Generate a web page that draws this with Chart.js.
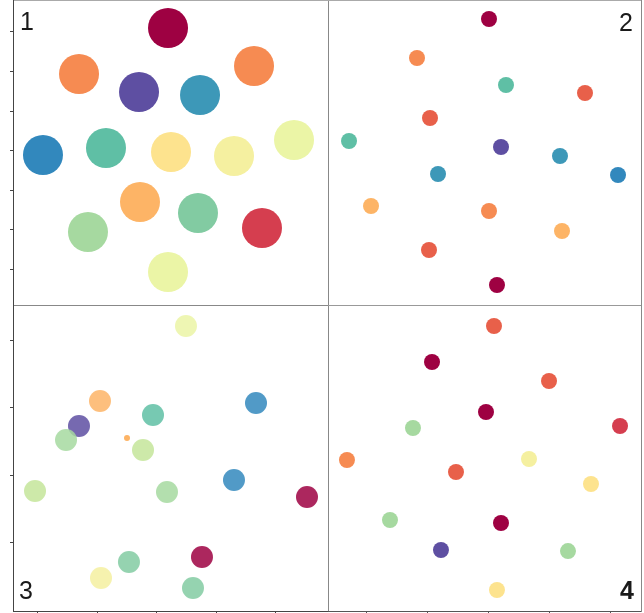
<!DOCTYPE html>
<html>
<head>
<meta charset="utf-8">
<script src="https://cdn.jsdelivr.net/npm/chart.js@4.4.1/dist/chart.umd.min.js"></script>
<style>
  html, body { margin: 0; padding: 0; background: #fff; }
  body { width: 644px; height: 613px; position: relative; overflow: hidden; }
  canvas { position: absolute; }
  .lab { position: absolute; font-family: "Liberation Sans", Arial, sans-serif; font-size: 25px; line-height: 25px; color: #1a1a1a; }
</style>
</head>
<body>
<canvas id="c1" width="319" height="306" style="left:10px;top:0px"></canvas>
<canvas id="c2" width="314" height="306" style="left:328px;top:0px"></canvas>
<canvas id="c3" width="319" height="309" style="left:10px;top:305px"></canvas>
<canvas id="c4" width="314" height="309" style="left:328px;top:305px"></canvas>
<div class="lab" style="left:20px;top:9px">1</div>
<div class="lab" style="left:619px;top:10px">2</div>
<div class="lab" style="left:19px;top:578px">3</div>
<div class="lab" style="left:620px;top:578px;font-weight:bold">4</div>
<script>
// ---- data: cluster centres per panel (embedding units) ----
const p1X = [-0.63, -23.16, -7.97, 7.47, 21.14, -32.28, -16.33, 0.13, 16.08, 31.27, -7.72, 6.96, 23.16, -20.89, -0.63];
const p1Y = [31.01, 19.37, 14.81, 14.05, 21.39, -1.14, 0.63, -0.38, -1.39, 2.66, -13.04, -15.82, -19.62, -20.63, -30.76];
const p1Class = [0, 3, 14, 12, 3, 13, 11, 5, 6, 7, 4, 10, 1, 9, 7];

const p2X = [1.14, -17.09, 5.44, 25.44, -13.80, -34.30, 4.18, 19.11, -11.77, 33.80, -28.73, 1.14, 19.62, -14.05, 3.16];
const p2Y = [33.80, 23.92, 17.09, 15.06, 8.73, 2.91, 1.39, -0.89, -5.44, -5.70, -13.54, -14.81, -19.87, -24.68, -33.54];
const p2Class = [0, 3, 11, 2, 2, 11, 14, 12, 12, 13, 4, 3, 4, 2, 0];

const p3X = [4.87, -9.58, -13.11, -15.29, -0.67, 16.64, -2.35, -20.50, 1.68, 12.94, 25.21, 7.56, -4.71, -9.41, 6.05];
const p3Y = [22.07, 10.96, 7.26, 5.19, 8.89, 10.67, 3.70, -2.37, -2.52, -0.74, -3.26, -12.15, -12.89, -15.26, -16.74];
const p3Class = [7, 4, 14, 9, 11, 13, 8, 8, 9, 13, 0, 0, 10, 6, 10];
const p3StrayX = [-5.04];
const p3StrayY = [5.48];
const p3StrayClass = [4];

const p4X = [0.82, -9.34, 9.84, -0.49, -12.46, 21.48, -23.28, -5.41, 6.56, 16.72, -16.23, 1.97, -7.87, 12.95, 1.31];
const p4Y = [21.64, 15.74, 12.62, 7.54, 4.92, 5.25, -0.33, -2.30, -0.16, -4.26, -10.16, -10.66, -15.08, -15.25, -21.64];
const p4Class = [2, 0, 2, 0, 9, 1, 3, 2, 6, 5, 9, 0, 14, 9, 5];

// ---- tick values ----
const p1YTicks = [-30, -20, -10, 0, 10, 20, 30];
const p3XTicks = [-20, -10, 0, 10, 20];
const p3YTicks = [-10, 0, 10, 20];
const p4XTicks = [-20, -10, 0, 10, 20];

// ---- axis ranges ----
const p1Range = { x: [-39.87, 39.87], y: [-39.11, 38.10] };
const p2Range = { x: [-39.62, 39.62], y: [-38.61, 38.61] };
const p3Range = { x: [-24.20, 28.74], y: [-20.15, 25.19] };
const p4Range = { x: [-26.39, 24.92], y: [-25.08, 25.08] };

// ---- styles ----
const palette = ['#9e0142', '#d53e4f', '#e8604a', '#f68b52', '#fdb466', '#fde38e', '#f5f0a0', '#ebf5a6',
                 '#c4e59a', '#a6d9a0', '#82cba2', '#5fbfa5', '#3d98b8', '#3288bd', '#5e4fa2'];

function pts(xs, ys) { return xs.map((x, i) => ({ x: x, y: ys[i] })); }
function cols(cls, alpha) { return cls.map(c => palette[c] + (alpha || '')); }

function axis(pos, range, opts) {
  const o = opts || {};
  const s = {
    type: 'linear', position: pos, min: range[0], max: range[1], display: true,
    ticks: { display: false },
    grid: { display: true, drawOnChartArea: false, drawTicks: !!o.ticks, tickLength: 3, color: o.color || '#444', lineWidth: 1 },
    border: { display: o.border !== false, color: o.color || '#888', width: 1 }
  };
  if (o.ticks) {
    s.afterBuildTicks = (sc) => { sc.ticks = o.ticks.map(v => ({ value: v })); };
  }
  return s;
}

function makePanel(id, datasets, scales, padBottom) {
  new Chart(document.getElementById(id), {
    type: 'scatter',
    data: { datasets: datasets },
    options: {
      responsive: false, animation: false, events: [],
      layout: { autoPadding: false, padding: { left: 0, top: 0, right: 1, bottom: padBottom } },
      plugins: { legend: { display: false }, tooltip: { enabled: false } },
      scales: scales
    }
  });
}

function ds(xs, ys, cls, r, alpha) {
  return { data: pts(xs, ys), backgroundColor: cols(cls, alpha), borderWidth: 0, pointRadius: r, pointHoverRadius: r };
}

// Panel 1
makePanel('c1', [ds(p1X, p1Y, p1Class, 20)], {
  x: axis('bottom', p1Range.x, { color: '#888' }),
  x2: axis('top', p1Range.x, { color: '#aaa' }),
  y: axis('left', p1Range.y, { ticks: p1YTicks, color: '#444' }),
  y2: axis('right', p1Range.y, { color: '#888' })
}, 1);

// Panel 2
makePanel('c2', [ds(p2X, p2Y, p2Class, 8)], {
  x: axis('bottom', p2Range.x, { color: '#888' }),
  x2: axis('top', p2Range.x, { color: '#aaa' }),
  y: Object.assign(axis('left', p2Range.y, { border: false }), { display: false }),
  y2: axis('right', p2Range.y, { color: '#888' })
}, 1);

// Panel 3
makePanel('c3', [ds(p3X, p3Y, p3Class, 11, 'd9'), ds(p3StrayX, p3StrayY, p3StrayClass, 3)], {
  x: axis('bottom', p3Range.x, { ticks: p3XTicks, color: '#444' }),
  x2: axis('top', p3Range.x, { color: '#888' }),
  y: axis('left', p3Range.y, { ticks: p3YTicks, color: '#444' }),
  y2: axis('right', p3Range.y, { color: '#888' })
}, 0);

// Panel 4
makePanel('c4', [ds(p4X, p4Y, p4Class, 8)], {
  x: axis('bottom', p4Range.x, { ticks: p4XTicks, color: '#555' }),
  x2: axis('top', p4Range.x, { color: '#999' }),
  y: Object.assign(axis('left', p4Range.y, { border: false }), { display: false }),
  y2: axis('right', p4Range.y, { color: '#888' })
}, 0);
</script>
</body>
</html>
